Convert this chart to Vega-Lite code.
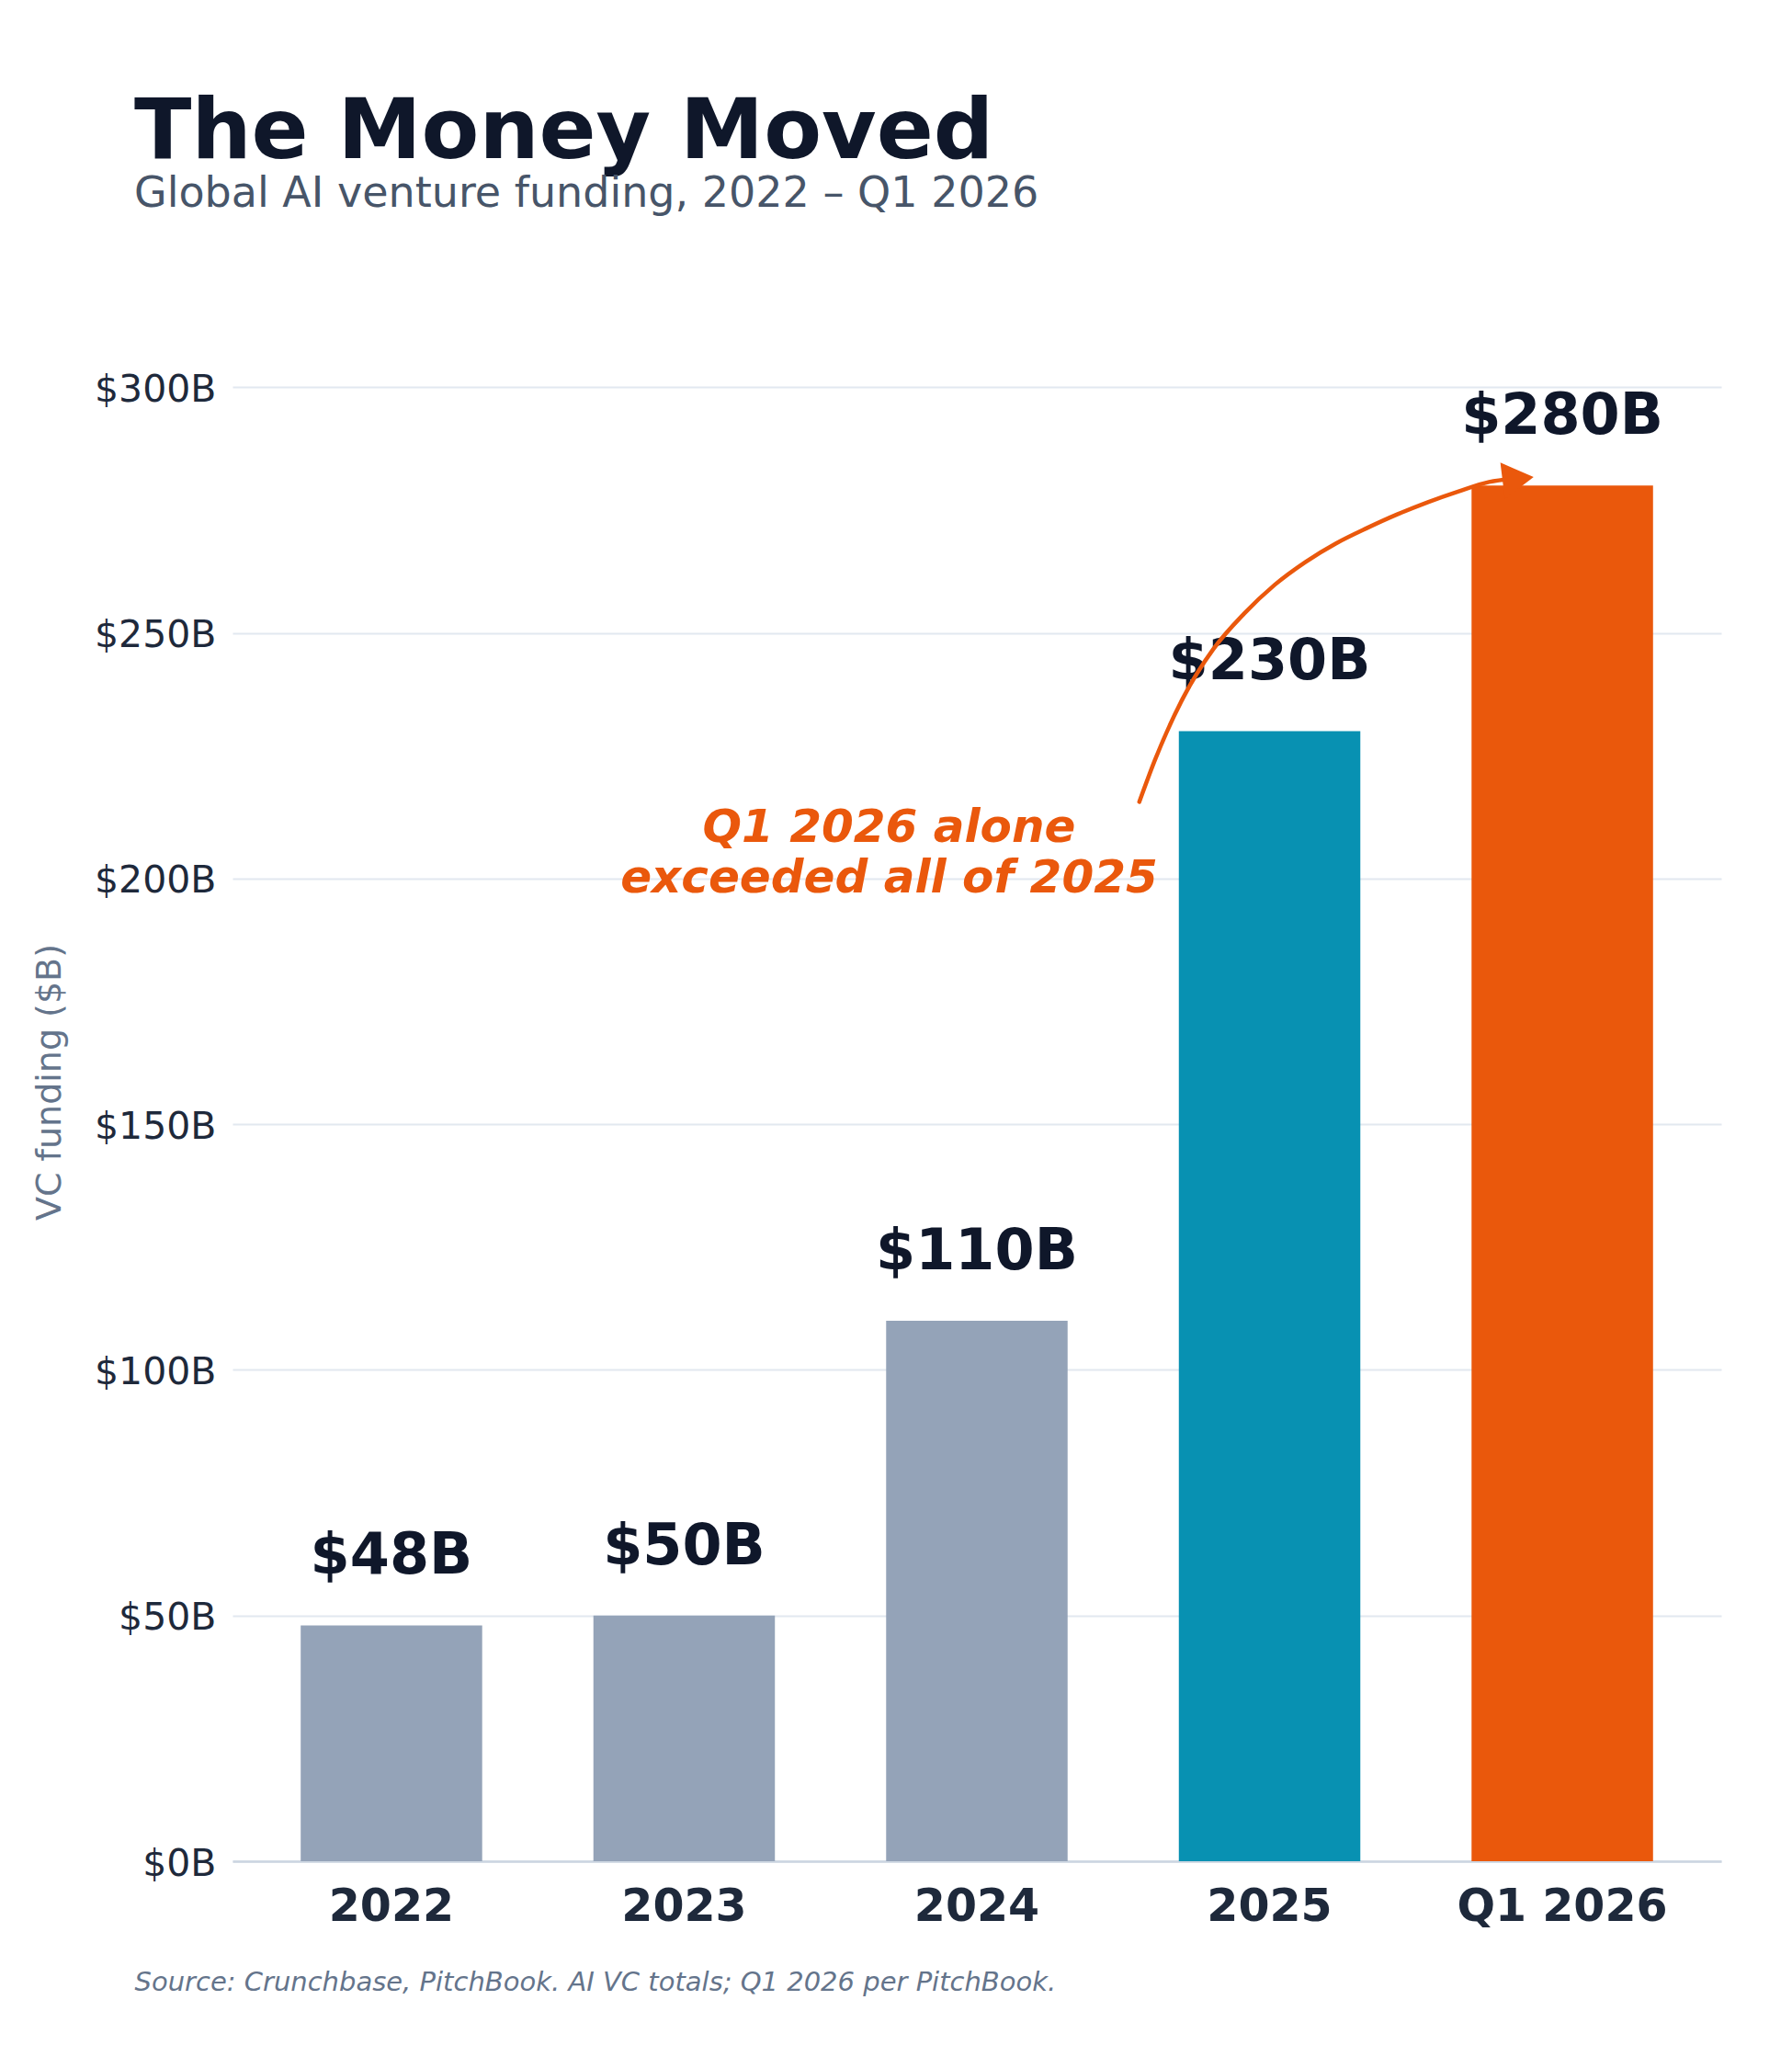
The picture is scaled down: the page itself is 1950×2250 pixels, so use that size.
{
  "$schema": "https://vega.github.io/schema/vega-lite/v6.json",
  "width": 1620,
  "height": 1700,
  "autosize": {"type": "none"},
  "padding": {"left": 253, "top": 325, "right": 77, "bottom": 225},
  "background": "white",
  "config": {
    "font": "DejaVu Sans",
    "view": {"stroke": null},
    "locale": {
      "number": {"decimal": ".", "thousands": ",", "grouping": [3], "currency": ["$", "B"]}
    }
  },
  "title": {
    "text": "The Money Moved",
    "subtitle": "Global AI venture funding, 2022 – Q1 2026",
    "anchor": "start",
    "frame": "group",
    "font": "DejaVu Sans",
    "fontSize": 91.5,
    "fontWeight": "bold",
    "color": "#0f172a",
    "subtitleFont": "DejaVu Sans",
    "subtitleFontSize": 46,
    "subtitleColor": "#475569",
    "subtitlePadding": -2,
    "dx": -107,
    "offset": 90
  },
  "encoding": {
    "y": {
      "field": "value",
      "type": "quantitative",
      "scale": {"domain": [0, 318], "nice": false, "zero": true},
      "axis": {
        "values": [0, 50, 100, 150, 200, 250, 300],
        "format": "$.0f",
        "labelFont": "DejaVu Sans",
        "labelFontSize": 41,
        "labelColor": "#1e293b",
        "labelPadding": 18,
        "labelOffset": 3,
        "ticks": false,
        "domain": false,
        "grid": true,
        "gridColor": "#e2e8f0",
        "gridWidth": 2,
        "title": "VC funding ($B)",
        "titleFont": "DejaVu Sans",
        "titleFontSize": 38,
        "titleFontWeight": "normal",
        "titleColor": "#64748b",
        "titleBaseline": "alphabetic",
        "titleAlign": "center",
        "titleX": -188,
        "titleY": 852
      }
    }
  },
  "layer": [
    {
      "data": {
        "values": [
          {"period": "2022", "value": 48, "tier": "earlier"},
          {"period": "2023", "value": 50, "tier": "earlier"},
          {"period": "2024", "value": 110, "tier": "earlier"},
          {"period": "2025", "value": 230, "tier": "2025"},
          {"period": "Q1 2026", "value": 280, "tier": "Q1 2026"}
        ]
      },
      "encoding": {
        "x": {
          "field": "period",
          "type": "nominal",
          "sort": null,
          "scale": {"paddingInner": 0.38, "paddingOuter": 0.233},
          "axis": {
            "labelAngle": 0,
            "labelFont": "DejaVu Sans",
            "labelFontSize": 49,
            "labelFontWeight": "bold",
            "labelColor": "#1e293b",
            "labelPadding": 25,
            "labelLimit": 600,
            "ticks": false,
            "grid": false,
            "domainColor": "#cbd5e1",
            "domainWidth": 2.5,
            "title": "Source: Crunchbase, PitchBook. AI VC totals; Q1 2026 per PitchBook.",
            "titleFont": "DejaVu Sans",
            "titleFontSize": 29,
            "titleFontStyle": "italic",
            "titleFontWeight": "normal",
            "titleColor": "#64748b",
            "titleAnchor": "start",
            "titleAlign": "left",
            "titleBaseline": "alphabetic",
            "titleX": -107,
            "titleY": 140
          }
        }
      },
      "layer": [
        {
          "mark": {"type": "bar"},
          "encoding": {
            "color": {
              "field": "tier",
              "type": "nominal",
              "scale": {"domain": ["earlier", "2025", "Q1 2026"], "range": ["#94a3b8", "#0891b2", "#ea580c"]},
              "legend": null
            }
          }
        },
        {
          "mark": {
            "type": "text",
            "dy": -56,
            "baseline": "alphabetic",
            "align": "center",
            "font": "DejaVu Sans",
            "fontSize": 62,
            "fontWeight": "bold",
            "color": "#0f172a"
          },
          "encoding": {
            "text": {"field": "value", "type": "quantitative", "format": "$.0f"}
          }
        }
      ]
    },
    {
      "layer": [
        {
          "data": {
            "values": [
              {"ax": 2.555, "value": 215.6},
              {"ax": 2.609, "value": 224.2},
              {"ax": 2.704, "value": 236.7},
              {"ax": 2.808, "value": 246.7},
              {"ax": 2.913, "value": 253.9},
              {"ax": 3.018, "value": 259.8},
              {"ax": 3.122, "value": 264.4},
              {"ax": 3.227, "value": 268.2},
              {"ax": 3.332, "value": 271.3},
              {"ax": 3.436, "value": 274.1},
              {"ax": 3.541, "value": 276.6},
              {"ax": 3.646, "value": 278.8},
              {"ax": 3.750, "value": 280.7},
              {"ax": 3.830, "value": 281.4}
            ]
          },
          "mark": {"type": "line", "interpolate": "monotone", "strokeWidth": 4.5, "color": "#ea580c", "strokeCap": "round"},
          "encoding": {
            "x": {"field": "ax", "type": "quantitative", "scale": {"domain": [-0.543, 4.543], "nice": false, "zero": false}, "axis": null}
          }
        },
        {
          "data": {"values": [{"tipX": 3.902, "value": 281.7}]},
          "mark": {
            "type": "point",
            "shape": "M0,0 L-1.7,-1 L-1.7,1 Z",
            "size": 1600,
            "angle": -7,
            "filled": true,
            "opacity": 1,
            "color": "#ea580c",
            "strokeWidth": 0
          },
          "encoding": {
            "x": {"field": "tipX", "type": "quantitative", "scale": {"domain": [-0.543, 4.543], "nice": false, "zero": false}, "axis": null}
          }
        },
        {
          "data": {"values": [{"noteX": 1.7, "value": 207.5, "note": ["Q1 2026 alone", "exceeded all of 2025"]}]},
          "mark": {
            "type": "text",
            "align": "center",
            "baseline": "alphabetic",
            "font": "DejaVu Sans",
            "fontSize": 50,
            "fontWeight": "bold",
            "fontStyle": "italic",
            "lineHeight": 55,
            "color": "#ea580c"
          },
          "encoding": {
            "x": {"field": "noteX", "type": "quantitative", "scale": {"domain": [-0.543, 4.543], "nice": false, "zero": false}, "axis": null},
            "text": {"field": "note"}
          }
        }
      ]
    }
  ],
  "resolve": {"scale": {"x": "independent"}}
}
